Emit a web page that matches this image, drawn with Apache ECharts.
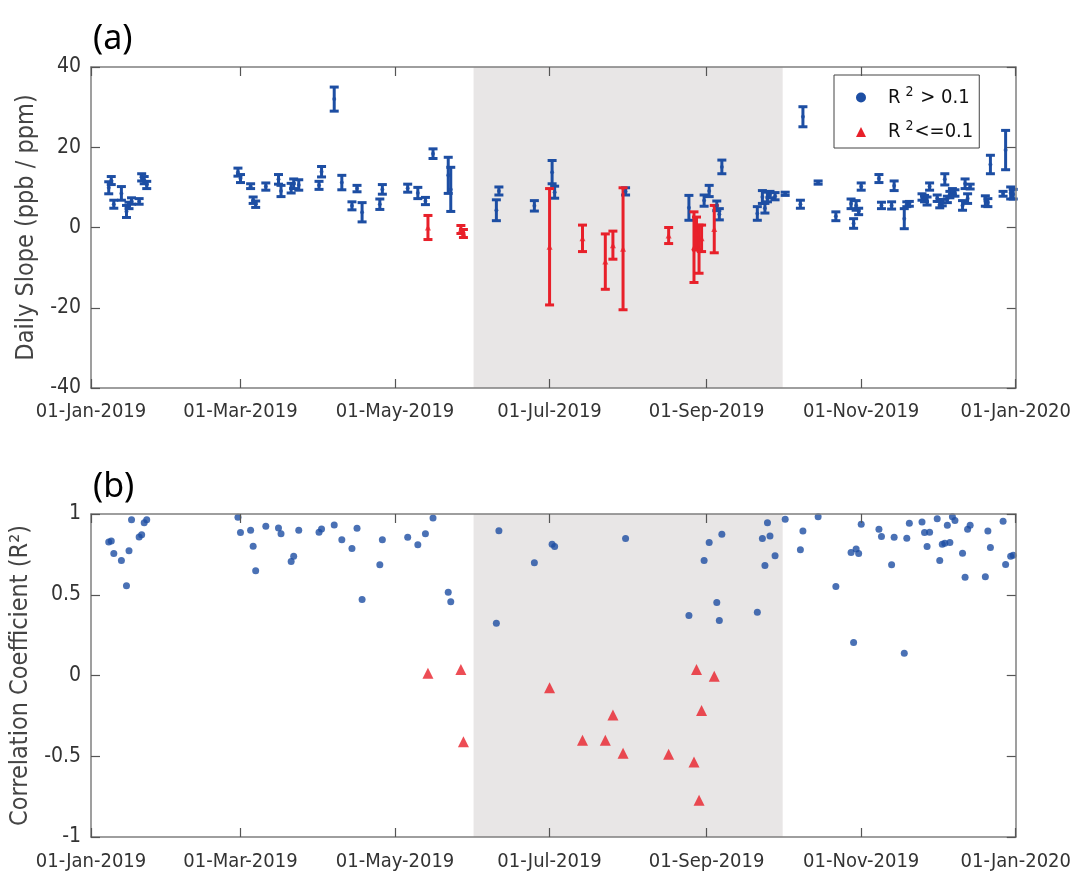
<!DOCTYPE html>
<html>
<head>
<meta charset="utf-8">
<script src="https://cdn.jsdelivr.net/npm/echarts@6/dist/echarts.min.js"></script>
<style>
  html, body { margin: 0; padding: 0; background: #fff; }
  #chart { width: 1074px; height: 875px; }
</style>
</head>
<body>
<div id="chart"></div>
<script>
// Daily observation dates
const dates = [
  '2019-01-08','2019-01-09','2019-01-10','2019-01-13','2019-01-15','2019-01-16','2019-01-17',
  '2019-01-20','2019-01-21','2019-01-22','2019-01-23',
  '2019-02-28','2019-03-01','2019-03-05','2019-03-06','2019-03-07','2019-03-11','2019-03-16',
  '2019-03-17','2019-03-21','2019-03-22','2019-03-24','2019-04-01','2019-04-02','2019-04-07',
  '2019-04-10','2019-04-14','2019-04-16','2019-04-18','2019-04-25','2019-04-26','2019-05-06',
  '2019-05-10','2019-05-13','2019-05-14','2019-05-16','2019-05-22','2019-05-23','2019-05-27',
  '2019-05-28','2019-06-10','2019-06-11','2019-06-25','2019-07-01','2019-07-02','2019-07-03',
  '2019-07-14','2019-07-23','2019-07-26','2019-07-30','2019-07-31','2019-08-17','2019-08-25',
  '2019-08-27','2019-08-28','2019-08-29','2019-08-30','2019-08-31','2019-09-02','2019-09-04',
  '2019-09-05','2019-09-06','2019-09-07','2019-09-21','2019-09-23','2019-09-24','2019-09-25',
  '2019-09-26','2019-09-28','2019-10-02','2019-10-08','2019-10-09','2019-10-15','2019-10-22',
  '2019-10-28','2019-10-29','2019-10-30','2019-10-31','2019-11-01','2019-11-08','2019-11-09',
  '2019-11-13','2019-11-14','2019-11-18','2019-11-19','2019-11-20','2019-11-25','2019-11-26',
  '2019-11-27','2019-11-28','2019-12-01','2019-12-02','2019-12-03','2019-12-04','2019-12-05',
  '2019-12-06','2019-12-07','2019-12-08','2019-12-11','2019-12-12','2019-12-13','2019-12-14',
  '2019-12-20','2019-12-21','2019-12-22','2019-12-27','2019-12-28','2019-12-30','2019-12-31'
];

// Daily slope (ppb / ppm)
const slope = [
  9.9, 11.7, 5.8, 8.5, 4.0, 5.5, 6.6,
  6.5, 12.5, 11.8, 10.6,
  13.8, 12.2, 10.3, 6.8, 5.8, 10.2, 12.0,
  9.1, 9.8, 10.9, 10.6, 10.5, 13.9, 32.0,
  11.2, 5.4, 9.7, 3.8, 5.8, 9.5, 9.8,
  8.6, 6.6, 0.0, 18.4, 13.0, 9.5, -0.5,
  -1.5, 4.3, 9.1, 5.4, -4.8, 13.8, 8.8,
  -2.7, -8.5, -4.4, -5.3, 9.0, -2.0, 4.9,
  -4.9, -1.5, -5.4, -2.7, 6.7, 9.1, -0.4,
  5.4, 3.3, 15.1, 3.5, 7.6, 4.8, 7.6,
  8.2, 7.8, 8.4, 5.8, 27.6, 11.2, 2.8,
  5.9, 1.0, 5.5, 4.0, 10.2, 12.2, 5.5,
  5.5, 10.4, 2.2, 5.8, 5.9, 7.6, 7.2,
  6.6, 10.2, 7.3, 5.7, 6.2, 12.0, 7.0,
  8.2, 8.9, 8.6, 5.5, 10.9, 7.2, 10.2,
  6.6, 6.2, 15.7, 8.4, 19.3, 8.6, 8.3
];

// Half-width of the slope uncertainty
const slopeErr = [
  1.5, 1.0, 1.0, 1.7, 1.5, 0.8, 0.8,
  0.7, 0.9, 0.9, 0.9,
  1.0, 1.0, 0.6, 0.8, 0.8, 0.9, 1.2,
  1.4, 1.2, 1.2, 1.3, 1.0, 1.3, 3.0,
  1.8, 1.0, 0.8, 2.4, 1.3, 1.2, 1.0,
  1.4, 0.9, 3.0, 1.2, 4.5, 5.5, 1.0,
  1.0, 2.6, 1.0, 1.3, 14.5, 2.9, 1.5,
  3.3, 6.9, 3.5, 15.2, 0.9, 2.0, 3.1,
  8.8, 4.1, 6.0, 3.3, 1.4, 1.4, 5.9,
  1.2, 1.4, 1.7, 1.7, 1.6, 1.2, 1.2,
  0.8, 0.9, 0.4, 1.0, 2.5, 0.4, 1.1,
  1.2, 1.2, 1.2, 0.8, 0.9, 1.0, 0.8,
  0.9, 1.2, 2.5, 0.6, 0.6, 0.8, 0.8,
  1.0, 0.9, 0.8, 0.8, 0.8, 1.4, 0.8,
  0.8, 0.8, 0.8, 1.2, 1.2, 1.2, 0.6,
  1.3, 1.0, 2.3, 0.6, 4.9, 1.5, 1.2
];

// Daily correlation coefficient (R)
const corr = [
  0.827, 0.833, 0.755, 0.712, 0.556, 0.773, 0.965,
  0.858, 0.872, 0.946, 0.965,
  0.980, 0.885, 0.899, 0.800, 0.648, 0.924, 0.914,
  0.878, 0.706, 0.739, 0.899, 0.887, 0.907, 0.932,
  0.841, 0.786, 0.911, 0.471, 0.685, 0.840, 0.856,
  0.810, 0.877, 0.014, 0.975, 0.516, 0.457, 0.037,
  -0.410, 0.323, 0.897, 0.698, -0.076, 0.813, 0.798,
  -0.401, -0.401, -0.245, -0.482, 0.848, -0.488, 0.372,
  -0.535, 0.037, -0.772, -0.216, 0.712, 0.823, -0.004,
  0.452, 0.341, 0.874, 0.391, 0.848, 0.681, 0.946,
  0.864, 0.741, 0.967, 0.778, 0.895, 0.983, 0.551,
  0.761, 0.204, 0.784, 0.755, 0.936, 0.905, 0.860,
  0.685, 0.856, 0.138, 0.850, 0.942, 0.951, 0.885,
  0.798, 0.887, 0.971, 0.712, 0.813, 0.819, 0.930,
  0.823, 0.983, 0.959, 0.757, 0.609, 0.905, 0.930,
  0.611, 0.895, 0.792, 0.955, 0.687, 0.739, 0.745
];

// Days whose fit has R² <= 0.1
const weakFitDates = [
  '2019-05-14','2019-05-27','2019-05-28','2019-07-01','2019-07-14','2019-07-23','2019-07-26',
  '2019-07-30','2019-08-17','2019-08-27','2019-08-28','2019-08-29','2019-08-30','2019-09-04'
];

const tickDates = ['2019-01-01','2019-03-01','2019-05-01','2019-07-01','2019-09-01','2019-11-01','2020-01-01'];
const shadedPeriod = ['2019-06-01', '2019-10-01'];
const slopeTicks = { min: -40, max: 40, step: 20 };
const corrTicks = { min: -1, max: 1, step: 0.5 };
const seriesNames = ['R² > 0.1', 'R²<=0.1'];

const BLUE = '#1d4ea3';
const RED = '#e8202a';
const FRAME = '#7f7f7f';
const MONTHS = ['Jan','Feb','Mar','Apr','May','Jun','Jul','Aug','Sep','Oct','Nov','Dec'];
const LABEL_FONT = "'Liberation Sans Narrow', 'DejaVu Sans Condensed', 'Noto Sans', sans-serif";

function ts(s) {
  const [y, m, d] = s.split('-').map(Number);
  return Date.UTC(y, m - 1, d);
}
function fmtDate(v) {
  const d = new Date(v);
  const dd = String(d.getUTCDate()).padStart(2, '0');
  return dd + '-' + MONTHS[d.getUTCMonth()] + '-' + d.getUTCFullYear();
}

const weakSet = new Set(weakFitDates);
const strong = { bars: [], mid: [], r: [] };
const weak = { bars: [], mid: [], r: [] };
dates.forEach((d, i) => {
  const t = ts(d);
  const g = weakSet.has(d) ? weak : strong;
  g.bars.push([t, slope[i] - slopeErr[i], slope[i] + slopeErr[i]]);
  g.mid.push([t, slope[i]]);
  g.r.push([t, corr[i]]);
});

const tickValues = tickDates.map(ts);
const xMin = tickValues[0];
const xMax = tickValues[tickValues.length - 1];

// Vertical error bar with flat caps, placed through the axis scales
function errorBar(color) {
  return function (params, api) {
    const x = api.value(0);
    const lo = api.coord([x, api.value(1)]);
    const hi = api.coord([x, api.value(2)]);
    const w = 4.5;
    const style = { stroke: color, lineWidth: 3, lineCap: 'butt' };
    return {
      type: 'group',
      children: [
        { type: 'line', shape: { x1: lo[0], y1: lo[1], x2: hi[0], y2: hi[1] }, style },
        { type: 'line', shape: { x1: lo[0] - w, y1: lo[1], x2: lo[0] + w, y2: lo[1] }, style },
        { type: 'line', shape: { x1: hi[0] - w, y1: hi[1], x2: hi[0] + w, y2: hi[1] }, style }
      ]
    };
  };
}

// Date axis: timestamps on a value scale, ticks on the first of every other month
function xAxes(gridIndex, margin) {
  const common = {
    type: 'value', gridIndex, min: xMin, max: xMax, z: 5,
    splitLine: { show: false },
    axisLine: { show: true, onZero: false, lineStyle: { color: FRAME, width: 1.5 } },
    axisTick: { show: true, inside: true, length: 9, customValues: tickValues, lineStyle: { color: '#555', width: 1.2 } }
  };
  return [
    Object.assign({}, common, {
      position: 'bottom',
      axisLabel: {
        show: true, customValues: tickValues, formatter: fmtDate, margin,
        color: '#333', fontSize: 20, fontFamily: LABEL_FONT
      }
    }),
    Object.assign({}, common, { position: 'top', axisLabel: { show: false } })
  ];
}

function yAxes(gridIndex, t, name, nameGap) {
  const common = {
    type: 'value', gridIndex, min: t.min, max: t.max, interval: t.step, z: 5,
    splitLine: { show: false },
    axisLine: { show: true, onZero: false, lineStyle: { color: FRAME, width: 1.5 } },
    axisTick: { show: true, inside: true, length: 9, lineStyle: { color: '#555', width: 1.2 } }
  };
  return [
    Object.assign({}, common, {
      position: 'left',
      name, nameLocation: 'middle', nameGap,
      nameTextStyle: { color: '#444', fontSize: 25, fontFamily: LABEL_FONT },
      axisLabel: { color: '#333', fontSize: 21, fontFamily: LABEL_FONT, margin: 10 }
    }),
    Object.assign({}, common, { position: 'right', axisLabel: { show: false } })
  ];
}

const shading = (xi, yi) => ({
  type: 'line', xAxisIndex: xi, yAxisIndex: yi, data: [], z: 0, silent: true,
  markArea: {
    silent: true,
    itemStyle: { color: '#e8e6e6' },
    data: [[{ xAxis: ts(shadedPeriod[0]) }, { xAxis: ts(shadedPeriod[1]) }]]
  }
});

const chart = echarts.init(document.getElementById('chart'), null, { renderer: 'canvas' });
chart.setOption({
  animation: false,
  backgroundColor: '#fff',
  title: [
    { text: '(a)', left: 88, top: 17, textStyle: { fontSize: 34, fontWeight: 'normal', color: '#000', fontFamily: 'Noto Sans' } },
    { text: '(b)', left: 88, top: 465, textStyle: { fontSize: 34, fontWeight: 'normal', color: '#000', fontFamily: 'Noto Sans' } }
  ],
  grid: [
    { left: 91, top: 67, width: 925, height: 321 },
    { left: 91, top: 514, width: 925, height: 323 }
  ],
  legend: {
    left: 834, top: 75, orient: 'vertical',
    backgroundColor: '#fff', borderColor: '#444', borderWidth: 1,
    padding: [10, 6, 6, 22], itemGap: 12, itemWidth: 10, itemHeight: 10,
    data: [
      { name: seriesNames[0], icon: 'circle' },
      { name: seriesNames[1], icon: 'triangle' }
    ],
    formatter: n => n === seriesNames[0] ? '{r|R}{s|2}{t| > 0.1}' : '{r|R}{s|2}{t|<=0.1}',
    textStyle: {
      rich: {
        r: { fontSize: 20, color: '#111', fontFamily: LABEL_FONT, padding: [0, 0, 0, 17] },
        t: { fontSize: 20, color: '#111', fontFamily: LABEL_FONT },
        s: { fontSize: 14, color: '#111', fontFamily: LABEL_FONT, padding: [0, 1, 11, 5] }
      }
    }
  },
  xAxis: [...xAxes(0, 14), ...xAxes(1, 15)],
  yAxis: [
    ...yAxes(0, slopeTicks, 'Daily Slope (ppb / ppm)', 48),
    ...yAxes(1, corrTicks, 'Correlation Coefficient (R²)', 48)
  ],
  series: [
    shading(0, 0),
    shading(2, 2),
    {
      type: 'custom', name: seriesNames[0], xAxisIndex: 0, yAxisIndex: 0, z: 3,
      renderItem: errorBar(BLUE), encode: { x: 0, y: [1, 2] }, data: strong.bars,
      itemStyle: { color: BLUE }
    },
    {
      type: 'custom', name: seriesNames[1], xAxisIndex: 0, yAxisIndex: 0, z: 3,
      renderItem: errorBar(RED), encode: { x: 0, y: [1, 2] }, data: weak.bars,
      itemStyle: { color: RED }
    },
    {
      type: 'scatter', name: seriesNames[0], xAxisIndex: 0, yAxisIndex: 0, z: 4,
      symbol: 'circle', symbolSize: 4, itemStyle: { color: BLUE }, data: strong.mid
    },
    {
      type: 'scatter', name: seriesNames[1], xAxisIndex: 0, yAxisIndex: 0, z: 4,
      symbol: 'triangle', symbolSize: 6, itemStyle: { color: RED }, data: weak.mid
    },
    {
      type: 'scatter', name: seriesNames[0], xAxisIndex: 2, yAxisIndex: 2, z: 4,
      symbol: 'circle', symbolSize: 7, itemStyle: { color: BLUE }, data: strong.r
    },
    {
      type: 'scatter', name: seriesNames[1], xAxisIndex: 2, yAxisIndex: 2, z: 4,
      symbol: 'triangle', symbolSize: 11, itemStyle: { color: RED }, data: weak.r
    }
  ]
});
</script>
</body>
</html>
